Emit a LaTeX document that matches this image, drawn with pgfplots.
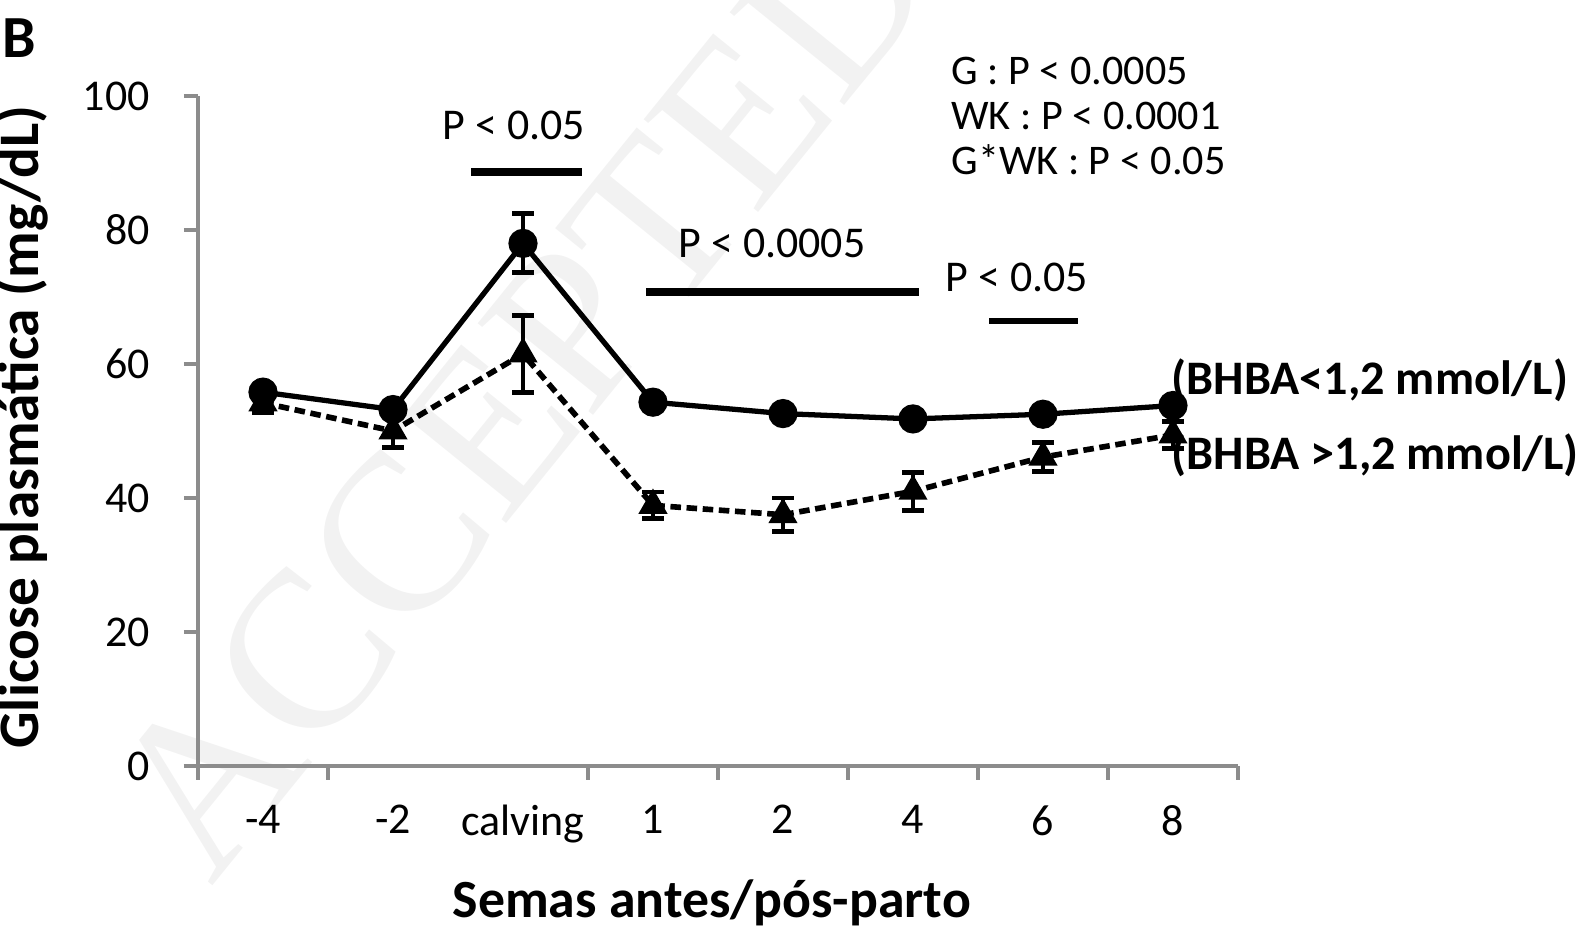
\documentclass[border=0pt]{standalone}
\usepackage{pgfplots}
\pgfplotsset{compat=1.18}
\usepackage{fontspec}
\setmainfont{Carlito}
\newfontfamily\wmfont{Liberation Serif}
\definecolor{axgray}{RGB}{140,140,140}
\begin{document}
\begin{tikzpicture}
\useasboundingbox (0,0) rectangle (15.87,9.30);
\node[rotate=51, text=black!5, font=\wmfont\fontsize{64}{64}\selectfont] at (5.2,5.4) {ACCEPTED};
\begin{axis}[
  at={(1.98cm,1.64cm)}, anchor=south west,
  scale only axis, width=10.40cm, height=6.70cm,
  xmin=-0.5, xmax=7.5, ymin=0, ymax=100,
  clip=false,
  axis x line=bottom, axis y line=left,
  axis line style={-, axgray, line width=1.3pt},
  x axis line style={shorten <=-0.14cm},
  tick align=outside,
  major tick length=0.14cm,
  every tick/.style={axgray, line width=1pt},
  ytick={0,20,40,60,80,100},
  xtick={-0.5,0.5,2.5,3.5,4.5,5.5,6.5,7.5},
  xticklabels={},
  extra x ticks={0,1,2,3,4,5,6,7},
  extra x tick labels={-4,-2,calving,1,2,4,6,8},
  extra x tick style={major tick length=0pt, xticklabel style={yshift=-0.27cm}},
  /pgf/number format/assume math mode=true,
  ticklabel style={font=\fontsize{12.5}{14}\selectfont},
  yticklabel style={xshift=-0.22cm},
  xlabel={Semas antes/pós-parto},
  ylabel={Glicose plasmática (mg/dL)},
  xlabel style={font=\bfseries\fontsize{15.3}{17}\selectfont, at={(axis description cs:0.494,0)}, anchor=center, yshift=-1.37cm},
  ylabel style={font=\bfseries\fontsize{16.3}{18}\selectfont, at={(axis description cs:0,0.506)}, anchor=center, yshift=1.76cm},
]
\addplot[black, line width=1.5pt, mark=*, mark size=3.4pt,
  error bars/.cd, y dir=both, y explicit, error bar style={line width=1.4pt}, error mark options={rotate=90, mark size=3pt, line width=1.4pt}]
  coordinates {
  (0,55.8) +- (0,1)
  (1,53.2) +- (0,1)
  (2,78.0) +- (0,4.4)
  (3,54.3) +- (0,1)
  (4,52.6) +- (0,0.8)
  (5,51.8) +- (0,0.8)
  (6,52.5) +- (0,0.8)
  (7,53.8) +- (0,1)
  };
\addplot[black, line width=1.6pt, dash pattern=on 3pt off 1.6pt, mark=triangle*, mark size=3.2pt, mark options={solid},
  error bars/.cd, y dir=both, y explicit, error bar style={line width=1.4pt, solid}, error mark options={rotate=90, mark size=3pt, line width=1.4pt, solid}]
  coordinates {
  (0,54.2) +- (0,1.5)
  (1,50.0) +- (0,2.5)
  (2,61.5) +- (0,5.7)
  (3,38.9) +- (0,2.0)
  (4,37.5) +- (0,2.5)
  (5,41.0) +- (0,2.8)
  (6,46.1) +- (0,2.2)
  (7,49.4) +- (0,2.0)
  };
\end{axis}
% significance bars
\draw[black, line width=2.3pt] (4.71,7.58) -- (5.82,7.58);
\draw[black, line width=2.3pt] (6.46,6.38) -- (9.19,6.38);
\draw[black, line width=1.5pt] (9.89,6.09) -- (10.78,6.09);
\node[font=\fontsize{12.5}{14}\selectfont] at (5.14,8.05) {P < 0.05};
\node[font=\fontsize{12.5}{14}\selectfont] at (7.72,6.87) {P < 0.0005};
\node[font=\fontsize{12.5}{14}\selectfont] at (10.17,6.53) {P < 0.05};
\node[anchor=west, font=\fontsize{12}{14}\selectfont] at (9.39,8.59) {G : P < 0.0005};
\node[anchor=west, font=\fontsize{12}{14}\selectfont] at (9.39,8.14) {WK : P < 0.0001};
\node[anchor=west, font=\fontsize{12}{14}\selectfont] at (9.39,7.70) {G*WK : P < 0.05};
\node[anchor=west, inner sep=0pt, font=\bfseries\fontsize{13.7}{15}\selectfont] at (11.71,5.50) {(BHBA<1,2 mmol/L)};
\node[anchor=west, inner sep=0pt, font=\bfseries\fontsize{13.7}{15}\selectfont] at (11.71,4.75) {(BHBA >1,2 mmol/L)};
\node[font=\bfseries\fontsize{17}{18}\selectfont] at (0.19,8.92) {B};
\end{tikzpicture}
\end{document}
